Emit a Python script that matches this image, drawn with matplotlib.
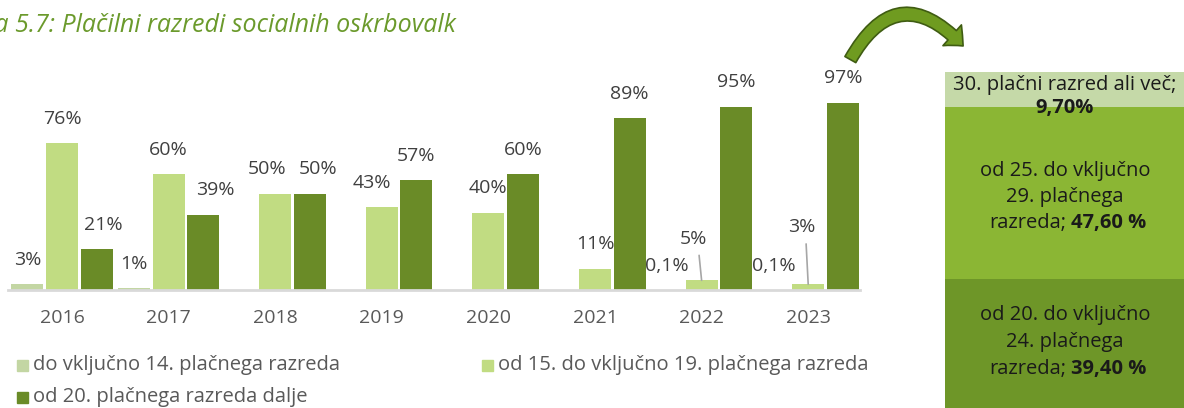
import matplotlib
matplotlib.use("Agg")
import matplotlib.pyplot as plt
from matplotlib.patches import FancyArrowPatch, Rectangle
import numpy as np

plt.rcParams['font.family'] = ['Open Sans', 'DejaVu Sans']

# ---- data ----
years = ['2016', '2017', '2018', '2019', '2020', '2021', '2022', '2023']
do14 = [3, 1, np.nan, np.nan, np.nan, np.nan, 0.1, 0.1]
od15_19 = [76, 60, 50, 43, 40, 11, 5, 3]
od20 = [21, 39, 50, 57, 60, 89, 95, 97]
series_names = ['do vključno 14. plačnega razreda',
                'od 15. do vključno 19. plačnega razreda',
                'od 20. plačnega razreda dalje']
colors = ['#c3d6a3', '#c1dc82', '#6a8b27']

stack_values = [39.4, 47.6, 9.7]
stack_lines = [['od 20. do vključno', '24. plačnega'],
               ['od 25. do vključno', '29. plačnega'],
               ['30. plačni razred ali več;']]
stack_bold = ['39,40 %', '47,60 %', '9,70%']
stack_colors = ['#6e9628', '#8bb634', '#c5d9a8']

title = 'Slika 5.7: Plačilni razredi socialnih oskrbovalk'

W, H = 1184, 408
fig = plt.figure(figsize=(W / 100, H / 100), dpi=100)


def fx(x):
    return x / W


def fy(y):
    return 1 - y / H


# ---- main chart ----
base_px, top_px = 290, 60
scale = 1.93  # px per percent
ax = fig.add_axes([fx(8), fy(base_px), fx(852), (base_px - top_px) / H])
x = np.arange(len(years))
bw = 0.30
off = 0.325
series = [do14, od15_19, od20]
for i, (vals, c) in enumerate(zip(series, colors)):
    xs = x + (i - 1) * off
    ax.bar(xs, vals, width=bw, color=c, edgecolor='none', zorder=2)

ax.set_xlim((8 - 62) / 106.6, (860 - 62) / 106.6)
ax.set_ylim(0, (base_px - top_px) / scale)
for s in ['top', 'left', 'right']:
    ax.spines[s].set_visible(False)
ax.spines['bottom'].set_color('#d9d9d9')
ax.spines['bottom'].set_linewidth(2)
ax.spines['bottom'].set_zorder(3)
ax.set_yticks([])
ax.set_xticks(x)
ax.set_xticklabels(years, fontsize=14, color='#595959')
ax.tick_params(axis='x', length=0, pad=14)


def fmt(v):
    if v < 1:
        return ('%.1f%%' % v).replace('.', ',')
    return '%d%%' % round(v)


lab_kw = dict(fontsize=14, color='#404040', ha='center', va='center',
              textcoords='offset points')
# label nudges (points) to avoid collisions, as in the original
nudge = {(2, 0): 4.5, (2, 1): 8.5, (1, 2): -6, (2, 2): 6, (1, 3): -7}
special = {(1, 6): (-6, 30), (1, 7): (-5, 41)}
for i, vals in enumerate(series):
    for j, v in enumerate(vals):
        if np.isnan(v):
            continue
        xs = x[j] + (i - 1) * off
        if (i, j) in special:
            dx, dy = special[(i, j)]
            ax.annotate(fmt(v), (xs, v), xytext=(dx, dy), **lab_kw)
            ax.annotate('', (xs, v), xytext=(dx * 0.3, dy - 12),
                        textcoords='offset points',
                        arrowprops=dict(arrowstyle='-', color='#a6a6a6', lw=1.2,
                                        shrinkA=0, shrinkB=0))
        else:
            ax.annotate(fmt(v), (xs, v), xytext=(nudge.get((i, j), 0), 17.5),
                        **lab_kw)

# ---- title (cut at the left edge, as in the original) ----
fig.text(fx(456), fy(26), title, ha='right', va='center', fontsize=18,
         style='italic', color='#6b9a2c')

# ---- legend ----
leg_pos = [(17, 365), (482, 365), (17, 397)]
for (lx, ly), name, c in zip(leg_pos, series_names, colors):
    fig.patches.append(Rectangle((fx(lx), fy(ly + 6)), 11 / W, 11 / H,
                                 transform=fig.transFigure, color=c, figure=fig))
    fig.text(fx(lx + 16), fy(ly), name, ha='left', va='center', fontsize=14.5,
             color='#595959')

# ---- stacked panel ----
sscale = 3.62
total = sum(stack_values)
ax2 = fig.add_axes([fx(945), 0, fx(W - 945), (H - 72) / H])
ax2.set_xlim(0, 1)
ax2.set_ylim(total - (H - 72) / sscale, total)
ax2.axis('off')
bottom = 0
for v, c in zip(stack_values, stack_colors):
    ax2.bar(0.5, v, width=1, bottom=bottom, color=c, edgecolor='none')
    bottom += v

cx = 1065
tk = dict(fontsize=14.5, color='#1a1a1a', va='center')
# top segment
fig.text(fx(cx), fy(85), stack_lines[2][0], ha='center', **tk)
fig.text(fx(cx), fy(108), stack_bold[2], ha='center', fontweight='bold', **tk)
# middle and bottom segments
for k, ys in ((1, (171, 197, 223)), (0, (315, 342, 369))):
    fig.text(fx(cx), fy(ys[0]), stack_lines[k][0], ha='center', **tk)
    fig.text(fx(cx), fy(ys[1]), stack_lines[k][1], ha='center', **tk)
    fig.text(fx(1066), fy(ys[2]), 'razreda;', ha='right', **tk)
    fig.text(fx(1071), fy(ys[2]), stack_bold[k], ha='left', fontweight='bold', **tk)

# ---- curved arrow ----
arrow = FancyArrowPatch((fx(849), fy(62)), (fx(965), fy(48)),
                        transform=fig.transFigure,
                        connectionstyle='arc3,rad=-0.7',
                        arrowstyle='simple,head_length=11,head_width=20,tail_width=9',
                        facecolor='#6f9b20', edgecolor='#3f5c12', lw=1.2,
                        mutation_scale=1)
fig.patches.append(arrow)

fig.savefig('out.png', dpi=100)
